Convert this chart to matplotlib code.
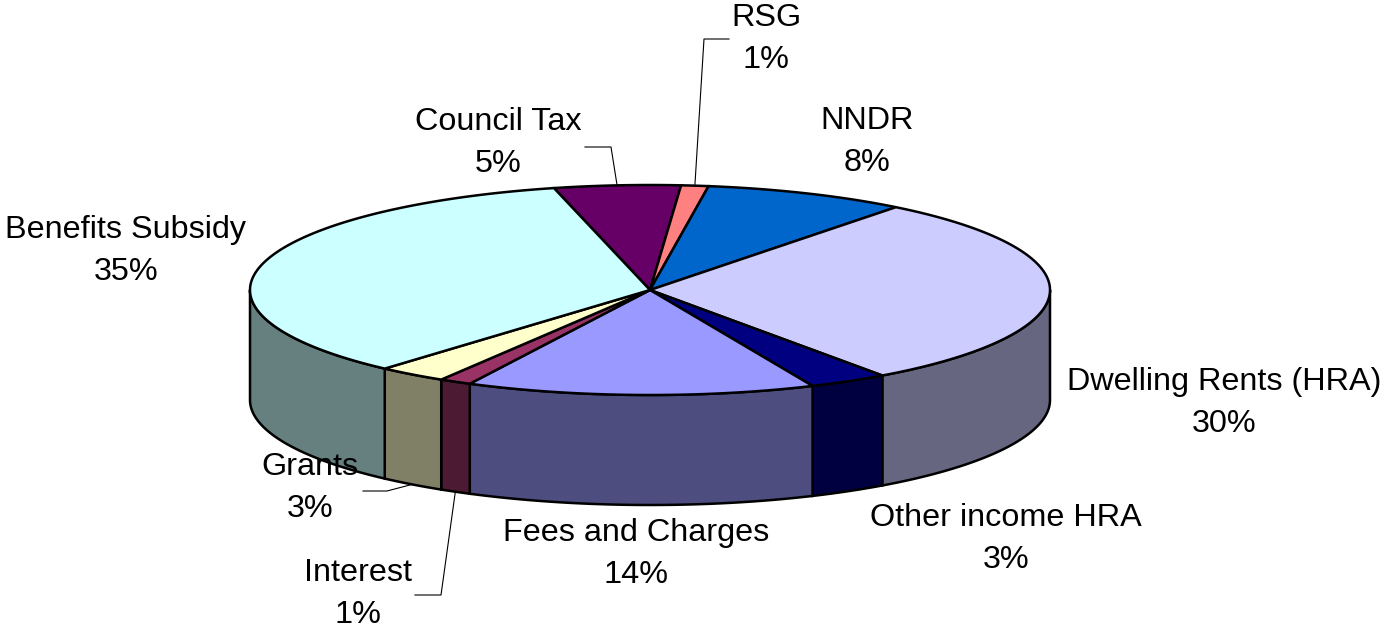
import numpy as np
import matplotlib.pyplot as plt
from matplotlib.patches import Polygon

plt.rcParams['font.family'] = ['Liberation Sans', 'DejaVu Sans']

# slices, clockwise from the top
names = ['Council Tax', 'RSG', 'NNDR', 'Dwelling Rents (HRA)', 'Other income HRA',
         'Fees and Charges', 'Interest', 'Grants', 'Benefits Subsidy']
values = [5.1, 1.1, 8.2, 29.6, 3.2, 14.1, 1.3, 2.8, 34.6]
colors = ['#660066', '#FF8080', '#0066CC', '#CCCCFF', '#000080',
          '#9999FF', '#993366', '#FFFFCC', '#CCFFFF']

# label block centres (pixels) and leader lines (elbow, end) where used
label_pos = [(498, 143), (766, 39), (867, 142), (1224, 403), (1006, 539),
             (636, 554), (358, 594), (310, 488), (126, 251)]
leaders = {'Council Tax': [(611, 147), (585, 147)],
           'RSG': [(704, 39), (729, 39)],
           'Grants': [(387, 491), (363, 491)],
           'Interest': [(441, 595), (415, 595)]}

# pie geometry in pixels
cx, cy, rx, ry, depth = 650, 290, 400, 105, 110
start = 103.9

def rim(t, dz=0):
    t = np.radians(t)
    return np.column_stack([cx + rx * np.cos(t), cy - ry * np.sin(t) + dz])

fig = plt.figure(figsize=(13.84, 6.31), dpi=100)
ax = fig.add_axes([0, 0, 1, 1])
ax.set_xlim(0, 1384)
ax.set_ylim(631, 0)
ax.axis('off')

total = sum(values)
angles = [start]
for v in values:
    angles.append(angles[-1] - 360 * v / total)

# side walls (front half only)
for i, c in enumerate(colors):
    hi, lo = angles[i], angles[i + 1]
    side = tuple(0.5 * np.array(plt.matplotlib.colors.to_rgb(c)))
    for k in (-1, 0, 1):
        a, b = max(lo + 360 * k, -180), min(hi + 360 * k, 0)
        if a < b:
            ts = np.linspace(a, b, 100)
            pts = np.vstack([rim(ts), rim(ts[::-1], depth)])
            ax.add_patch(Polygon(pts, closed=True, fc=side, ec='black', lw=1.8, zorder=2))

# top faces
for i, c in enumerate(colors):
    ts = np.linspace(angles[i], angles[i + 1], 200)
    pts = np.vstack([[cx, cy], rim(ts)])
    ax.add_patch(Polygon(pts, closed=True, fc=c, ec='black', lw=1.8, zorder=3))

# labels
for i, name in enumerate(names):
    pct = '{:.0f}%'.format(100 * values[i] / total)
    x, y = label_pos[i]
    ax.text(x, y, name + '\n' + pct, ha='center', va='center', fontsize=23.3,
            linespacing=1.48, zorder=5)
    if name in leaders:
        mid = (angles[i] + angles[i + 1]) / 2
        s = np.sin(np.radians(mid))
        p0 = rim([mid], depth if s < 0 else 0)[0]
        pts = np.vstack([p0] + leaders[name])
        ax.plot(pts[:, 0], pts[:, 1], color='black', lw=0.8, zorder=4)

fig.savefig('out.png', dpi=100)
